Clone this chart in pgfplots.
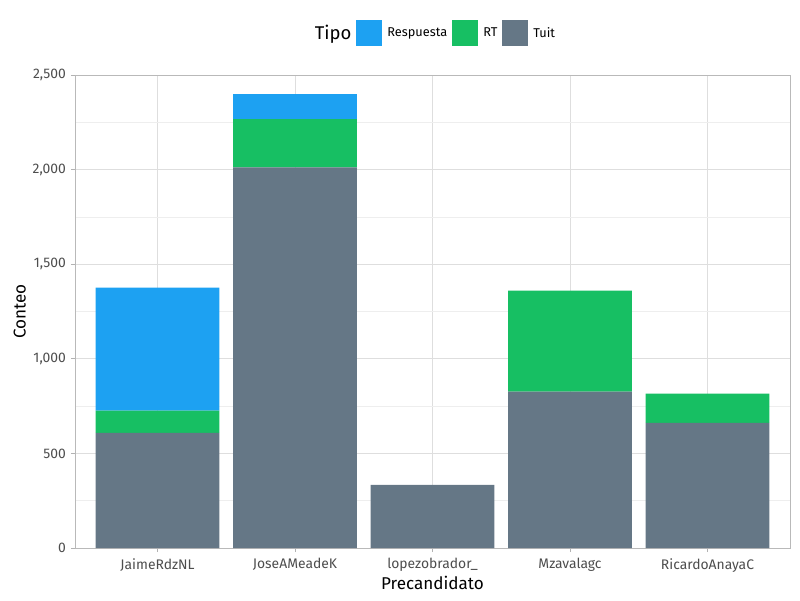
\documentclass[border=0pt]{standalone}
\usepackage{pgfplots}
\pgfplotsset{compat=1.18}
\usepackage{fontspec}
\setmainfont{Fira Sans}
\definecolor{cResp}{HTML}{1DA1F2}
\definecolor{cRT}{HTML}{17BF63}
\definecolor{cTuit}{HTML}{657786}
\definecolor{gridmaj}{HTML}{DEDEDE}
\definecolor{gridmin}{HTML}{EEEEEE}
\definecolor{ticklab}{HTML}{4D4D4D}
\pgfplotsset{boxlegend/.style={legend image code/.code={\fill[##1,draw=none] (0pt,-9.4pt) rectangle (18.7pt,9.4pt);}}}
\begin{document}
\begin{tikzpicture}
\useasboundingbox (0,0) rectangle (576pt,432pt);
\begin{axis}[
  at={(54pt,37.44pt)}, anchor=south west,
  width=514.8pt, height=340.56pt, scale only axis,
  ybar stacked, bar width=0.9,
  xmin=-0.6, xmax=4.6, ymin=0, ymax=2500,
  xtick={0,1,2,3,4},
  xticklabels={JaimeRdzNL,JoseAMeadeK,lopezobrador\_,Mzavalagc,RicardoAnayaC},
  ytick={0,500,1000,1500,2000,2500},
  minor ytick={250,750,1250,1750,2250},
  /pgf/number format/assume math mode=true,
  /pgf/number format/1000 sep={,},
  scaled y ticks=false,
  xmajorgrids, ymajorgrids, yminorgrids,
  major grid style={gridmaj, line width=0.6pt},
  minor grid style={gridmin, line width=0.5pt},
  axis line style={draw=gray!55, line width=0.6pt},
  tick style={gray!60, line width=0.6pt},
  tick align=outside, major tick length=3pt, minor tick length=0pt,
  xtick pos=bottom, ytick pos=left,
  ticklabel style={font=\fontsize{10}{12}\selectfont, text=ticklab},
  xticklabel style={yshift=-1pt},
  xlabel={Precandidato}, ylabel={Conteo},
  label style={font=\fontsize{12.3}{15}\selectfont},
  xlabel style={yshift=4pt},
  ylabel style={yshift=-2pt},
  reverse legend,
  legend columns=-1,
  legend style={at={(0.5,1)}, anchor=center, yshift=30pt, draw=none, fill=none,
    font=\fontsize{9.2}{11}\selectfont,
    nodes={inner sep=0pt},
    /tikz/every odd column/.append style={column sep=3.6pt},
    /tikz/every even column/.append style={column sep=3.6pt}},
]
\addplot[fill=cTuit, draw=none, boxlegend] coordinates {(0,609) (1,2012) (2,334) (3,826) (4,662)};
\addlegendentry{Tuit}
\addplot[fill=cRT, draw=none, boxlegend] coordinates {(0,117) (1,255) (2,0) (3,535) (4,154)};
\addlegendentry{RT}
\addplot[fill=cResp, draw=none, boxlegend] coordinates {(0,650) (1,132) (2,0) (3,0) (4,0)};
\addlegendentry{Respuesta}
\addlegendimage{empty legend}
\addlegendentry{\fontsize{13.3}{16}\selectfont Tipo\hspace{3pt}}
\end{axis}
\end{tikzpicture}
\end{document}
